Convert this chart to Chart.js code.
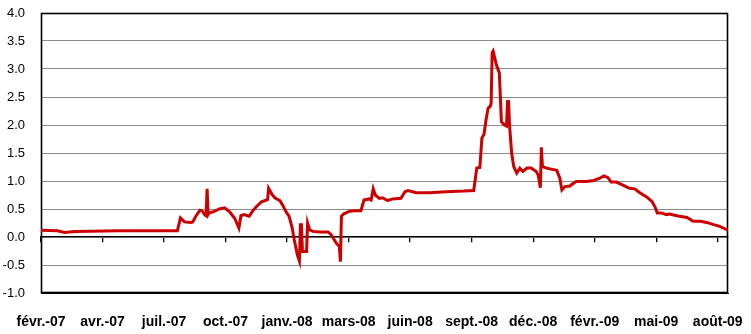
<!DOCTYPE html>
<html>
<head>
<meta charset="utf-8">
<script src="https://cdn.jsdelivr.net/npm/chart.js@4/dist/chart.umd.min.js"></script>
<style>
  body { margin: 0; background: #ffffff; }
  #wrap { width: 751px; height: 334px; position: relative; }
</style>
</head>
<body>
<div id="wrap"><canvas id="chart"></canvas></div>
<script>
// trading-day index (60 days between labels) and spread value
const dayIndex = [
  0, 16, 23, 33, 76, 133, 136, 140, 146, 148, 151, 155, 157, 160, 161, 162, 163, 164, 168,
  174, 179, 184, 189, 193, 195, 198, 203, 207, 210, 215, 220, 221, 222, 225, 228, 233,
  236, 239, 242, 245, 247, 250, 252, 253, 254, 255, 259, 260, 262, 265, 272, 280, 283,
  288, 291, 292, 293, 295, 301, 306, 312, 315, 320, 322, 324, 326, 330, 333, 338, 343,
  351, 355, 358, 366, 379, 395, 412, 422, 425, 428, 430, 432, 434, 436, 438, 439, 440,
  441, 444, 447, 449, 452, 454, 455, 456, 457, 459, 461, 464, 467, 470, 474, 478, 483,
  485, 487, 488, 489, 493, 503, 506, 508, 511, 516, 517, 522, 532, 539, 545, 549, 553,
  556, 561, 568, 574, 579, 584, 591, 596, 599, 601, 605, 610, 613, 620, 630, 636, 643,
  649, 656, 662, 669, 670
];
const spread = [
  0.12, 0.11, 0.08, 0.10, 0.11, 0.11, 0.34, 0.27, 0.26, 0.27, 0.37, 0.48, 0.47, 0.39, 0.38, 0.86, 0.40, 0.43, 0.45,
  0.50, 0.52, 0.45, 0.33, 0.16, 0.38, 0.40, 0.37, 0.48, 0.54, 0.63, 0.66, 0.67, 0.87, 0.77, 0.70, 0.65,
  0.56, 0.45, 0.37, 0.16, -0.05, -0.32, -0.43, 0.22, 0.22, -0.26, -0.26, 0.25, 0.13, 0.10, 0.09, 0.09, 0.04,
  -0.11, -0.17, -0.44, 0.37, 0.41, 0.46, 0.47, 0.47, 0.66, 0.68, 0.66, 0.86, 0.75, 0.69, 0.70, 0.65, 0.68,
  0.69, 0.81, 0.83, 0.79, 0.79, 0.81, 0.82, 0.83, 1.23, 1.24, 1.77, 1.83, 2.09, 2.30, 2.33, 2.39, 3.29,
  3.32, 3.08, 2.93, 2.06, 2.00, 1.98, 2.42, 2.42, 1.98, 1.50, 1.26, 1.14, 1.23, 1.17, 1.23, 1.23, 1.17,
  1.10, 0.88, 1.60, 1.26, 1.23, 1.19, 1.05, 0.84, 0.90, 0.91, 0.93, 0.99, 0.99, 1.01, 1.05, 1.09, 1.06,
  0.98, 0.98, 0.92, 0.87, 0.86, 0.79, 0.71, 0.63, 0.53, 0.43, 0.43, 0.40, 0.41, 0.38, 0.35, 0.28, 0.28,
  0.26, 0.22, 0.19, 0.13, 0.12
];
const tickLabels = [
  "févr.-07", "avr.-07", "juil.-07", "oct.-07", "janv.-08", "mars-08",
  "juin-08", "sept.-08", "déc.-08", "févr.-09", "mai-09", "août-09"
];
const daysPerLabel = 60;
const lastDay = 670;

const gridGray = "#8c8c8c";
const blackBorder = { display: true, color: "#000000", width: 1 };

function labelTicks(scale) {
  scale.ticks = tickLabels.map((_, i) => ({ value: i * daysPerLabel }));
}

// layout padding alone decides where the plot box sits
function noOverhang(scale) {
  scale.paddingTop = 0;
  scale.paddingBottom = 0;
  scale.paddingLeft = 0;
  scale.paddingRight = 0;
}

// black box round the plot area, under the data line
const framePlugin = {
  id: "plotFrame",
  beforeDatasetsDraw(chart) {
    const { ctx, chartArea } = chart;
    ctx.save();
    ctx.strokeStyle = "#000000";
    ctx.lineWidth = 1.6;
    ctx.strokeRect(
      Math.round(chartArea.left) + 0.5,
      Math.round(chartArea.top) + 0.5,
      Math.round(chartArea.right - chartArea.left) - 1,
      Math.round(chartArea.bottom - chartArea.top) - 1
    );
    ctx.restore();
  }
};

const chart = new Chart(document.getElementById("chart"), {
  type: "line",
  data: {
    datasets: [
      {
        data: dayIndex.map((d, i) => ({ x: d, y: spread[i] })),
        borderColor: "#cc0000",
        borderWidth: 3,
        pointRadius: 0,
        tension: 0,
        fill: false
      }
    ]
  },
  options: {
    responsive: true,
    maintainAspectRatio: false,
    animation: false,
    devicePixelRatio: 1,
    layout: { padding: { top: 13, right: 23, bottom: 0, left: 0 } },
    plugins: { legend: { display: false }, tooltip: { enabled: false } },
    scales: {
      x: {
        type: "linear",
        position: "bottom",
        min: 0,
        max: lastDay,
        afterBuildTicks: labelTicks,
        afterFit: (scale) => { scale.height = 41; noOverhang(scale); },
        grid: { display: false },
        border: blackBorder,
        ticks: {
          autoSkip: false,
          maxRotation: 0,
          padding: 13,
          color: "#000000",
          font: { family: "'Liberation Sans', Arial, sans-serif", size: 14, weight: "bold" },
          callback: (value) => tickLabels[Math.round(value / daysPerLabel)]
        }
      },
      xZero: {
        type: "linear",
        position: { y: 0 },
        min: 0,
        max: lastDay,
        afterBuildTicks: labelTicks,
        afterFit: noOverhang,
        grid: { drawOnChartArea: false, drawTicks: true, tickLength: 5, color: "#000000", lineWidth: 1.3 },
        border: { display: true, color: "#000000", width: 1.3 },
        ticks: { display: false }
      },
      y: {
        min: -1,
        max: 4,
        afterFit: (scale) => { scale.width = 41; noOverhang(scale); },
        grid: { drawTicks: false, color: gridGray },
        border: blackBorder,
        ticks: {
          stepSize: 0.5,
          padding: 16,
          color: "#000000",
          font: { family: "'Liberation Sans', Arial, sans-serif", size: 13 },
          callback: (value) => value.toFixed(1)
        }
      }
    }
  },
  plugins: [framePlugin]
});
</script>
</body>
</html>
